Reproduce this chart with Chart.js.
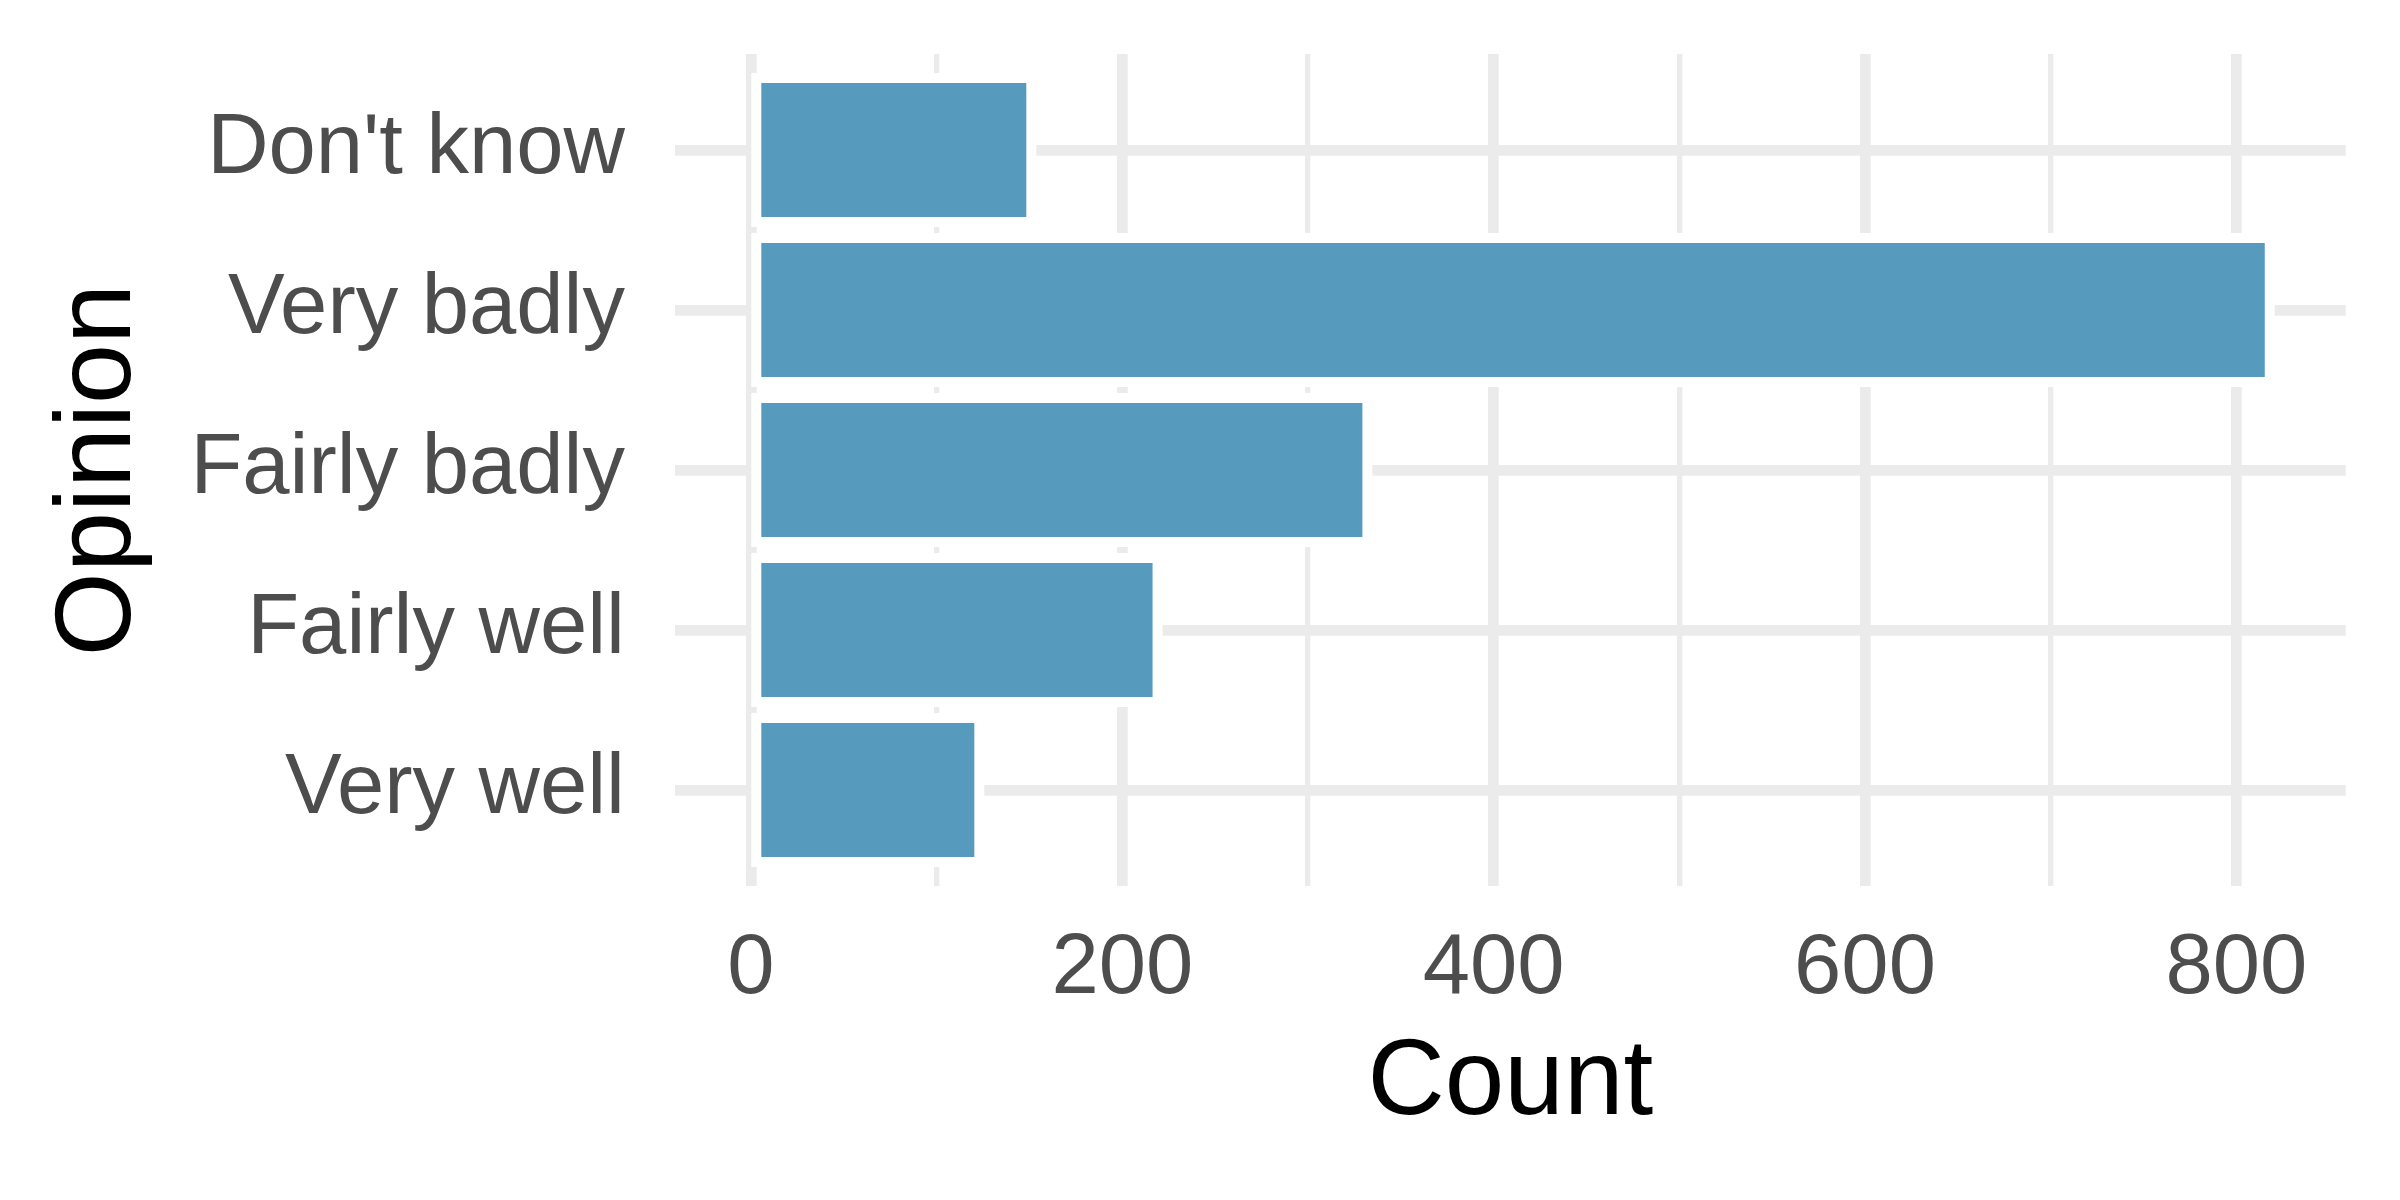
<!DOCTYPE html>
<html>
<head>
<meta charset="utf-8">
<script src="https://cdn.jsdelivr.net/npm/chart.js@4.4.1/dist/chart.umd.min.js"></script>
<style>
  html, body { margin: 0; padding: 0; background: #ffffff; }
  #wrap { width: 2400px; height: 1200px; }
</style>
</head>
<body>
<div id="wrap"><canvas id="c" width="2400" height="1200"></canvas></div>
<script>
// ---- data ----
const categories = ["Don't know", "Very badly", "Fairly badly", "Fairly well", "Very well"];
const counts = [151, 818, 332, 219, 123];
const xMajorTicks = [0, 200, 400, 600, 800];
const xMinorTicks = [100, 300, 500, 700];
const xTitle = "Count";
const yTitle = "Opinion";

// ---- styling ----
const BAR_COLOR = "#569BBD";
const GRID_COLOR = "#EBEBEB";
const MAJOR_W = 10.7;
const MINOR_W = 5.35;
const OUTLINE = 5;
const FONT = "'Liberation Sans', Arial, Helvetica, sans-serif";

const maxVal = Math.max(...counts);
const xMin = -0.05 * maxVal;
const xMax = 1.05 * maxVal;

const points = counts.map((v, i) => ({ x: v, y: i }));

// white outline drawn outside each bar (like ggplot's centred stroke)
const outlinePlugin = {
  id: 'outline',
  beforeDatasetsDraw(chart) {
    const ctx = chart.ctx;
    const meta = chart.getDatasetMeta(0);
    ctx.save();
    ctx.fillStyle = '#ffffff';
    meta.data.forEach(el => {
      const p = el.getProps(['x', 'y', 'base', 'height'], true);
      const l = Math.min(p.x, p.base), r = Math.max(p.x, p.base);
      const t = p.y - p.height / 2, b = p.y + p.height / 2;
      ctx.fillRect(l - OUTLINE, t - OUTLINE, (r - l) + 2 * OUTLINE, (b - t) + 2 * OUTLINE);
    });
    ctx.restore();
  }
};

new Chart(document.getElementById('c'), {
  type: 'bar',
  data: {
    datasets: [{
      data: points,
      backgroundColor: BAR_COLOR,
      borderColor: '#ffffff',
      borderWidth: OUTLINE,
      borderSkipped: false,
      inflateAmount: 0,
      barPercentage: 0.9,
      categoryPercentage: 1.0
    }]
  },
  plugins: [outlinePlugin],
  options: {
    indexAxis: 'y',
    responsive: false,
    animation: false,
    devicePixelRatio: 1,
    layout: { padding: { top: 54, right: 54.3, left: 0, bottom: 0 } },
    plugins: { legend: { display: false }, tooltip: { enabled: false } },
    scales: {
      x: {
        type: 'linear',
        position: 'bottom',
        min: xMin,
        max: xMax,
        offset: false,
        afterBuildTicks(scale) {
          scale.ticks = [...xMajorTicks, ...xMinorTicks].sort((a, b) => a - b).map(v => ({ value: v }));
        },
        afterFit(scale) {
          scale.height = 314;
          scale.paddingLeft = 0; scale.paddingRight = 0;
        },
        grid: {
          color: GRID_COLOR,
          lineWidth: (c) => (c.tick && xMajorTicks.includes(c.tick.value)) ? MAJOR_W : MINOR_W,
          drawTicks: false,
          offset: false
        },
        border: { display: false },
        ticks: {
          autoSkip: false,
          maxRotation: 0,
          padding: 32.5,
          color: '#4D4D4D',
          font: { family: FONT, size: 85 },
          callback: (v) => xMajorTicks.includes(v) ? String(v) : ''
        },
        title: {
          display: true,
          text: xTitle,
          color: '#000000',
          font: { family: FONT, size: 107 },
          padding: { top: 0, bottom: 51 }
        }
      },
      y: {
        type: 'linear',
        position: 'left',
        reverse: true,
        offset: false,
        min: -0.6,
        max: categories.length - 1 + 0.6,
        afterBuildTicks(scale) {
          scale.ticks = categories.map((_, i) => ({ value: i }));
        },
        afterFit(scale) {
          scale.width = 675;
          scale.paddingTop = 0; scale.paddingBottom = 0;
        },
        grid: {
          color: GRID_COLOR,
          lineWidth: MAJOR_W,
          drawTicks: false,
          offset: false
        },
        border: { display: false },
        ticks: {
          autoSkip: false,
          padding: 50,
          color: '#4D4D4D',
          font: { family: FONT, size: 85 },
          callback: (v) => categories[v] !== undefined ? categories[v] : ''
        },
        title: {
          display: true,
          text: yTitle,
          color: '#000000',
          font: { family: FONT, size: 108 },
          padding: { top: 35, bottom: 0 }
        }
      }
    }
  }
});
</script>
</body>
</html>
